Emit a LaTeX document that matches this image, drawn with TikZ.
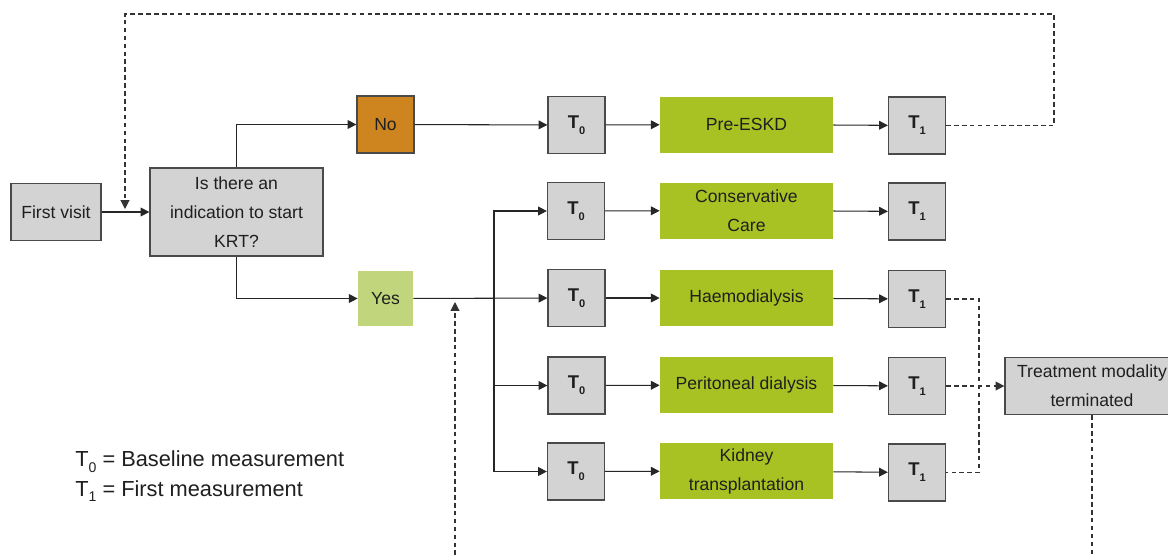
\documentclass[tikz,border=0pt]{standalone}
\usepackage{fontspec}
\setmainfont{Liberation Sans}
\usetikzlibrary{arrows.meta}
\definecolor{boxgray}{HTML}{D3D3D3}
\definecolor{edgegray}{HTML}{4A4A4A}
\definecolor{modgreen}{HTML}{A8C123}
\definecolor{nogold}{HTML}{CE8520}
\definecolor{yesgreen}{HTML}{C1D67C}
\newcommand{\tsub}[2]{\raisebox{-3.3pt}{\fontsize{#1}{#1}\selectfont #2}}

\begin{document}
\begin{tikzpicture}[x=0.02cm, y=-0.02cm,
    every node/.style={font=\fontsize{10}{16.5}\selectfont, text=black!88, inner sep=2pt, align=center},
    graybox/.style={draw=edgegray, fill=boxgray, line width=0.7pt, minimum width=#1, minimum height=1.14cm},
    graybox/.default=1.14cm,
    tbox/.style={graybox, font=\fontsize{10.5}{12}\selectfont\bfseries},
    modbox/.style={fill=modgreen, minimum width=3.46cm, minimum height=1.12cm},
    arr/.style={-{Triangle[length=5pt,width=5pt]}, line width=0.6pt, draw=black!85},
    dline/.style={line width=0.6pt, draw=black!80, dash pattern=on 2.6pt off 1.9pt},
    dasharr/.style={arr, draw=black!80, dash pattern=on 2.6pt off 1.9pt}]
    \useasboundingbox (0,0) rectangle (1168,555);

    % decision part
    \node[graybox=1.8cm] (first) at (56,212) {First visit};
    \node[graybox=3.46cm, minimum height=1.76cm] (quest) at (236.5,212) {Is there an\\indication to start\\KRT?};
    \node[graybox, fill=nogold] (no) at (385.5,124.5) {No};
    \node[fill=yesgreen, minimum width=1.1cm, minimum height=1.1cm] (yes) at (385.5,298.5) {Yes};

    % T0 -> modality -> T1
    \node[tbox] (t0pre) at (576.5,125) {T\tsub{6.3}{0}};
    \node[modbox] (pre) at (746.5,124.5) {Pre-ESKD};
    \node[tbox] (t1pre) at (917,125.5) {T\tsub{6.3}{1}};

    \node[tbox] (t0cc) at (576,211) {T\tsub{6.3}{0}};
    \node[modbox] (cc) at (746.5,210.5) {Conservative\\Care};
    \node[tbox] (t1cc) at (917,211.5) {T\tsub{6.3}{1}};

    \node[tbox] (t0hd) at (576.5,298) {T\tsub{6.3}{0}};
    \node[modbox] (hd) at (746.5,298) {Haemodialysis};
    \node[tbox] (t1hd) at (917,299) {T\tsub{6.3}{1}};

    \node[tbox] (t0pd) at (576.5,385.5) {T\tsub{6.3}{0}};
    \node[modbox] (pd) at (746.5,385) {Peritoneal dialysis};
    \node[tbox] (t1pd) at (917,386) {T\tsub{6.3}{1}};

    \node[tbox] (t0tx) at (576,471.5) {T\tsub{6.3}{0}};
    \node[modbox] (tx) at (746.5,471) {Kidney\\transplantation};
    \node[tbox] (t1tx) at (917,472.5) {T\tsub{6.3}{1}};

    \node[graybox=3.48cm] (treat) at (1092,386) {Treatment modality\\terminated};

    % legend
    \node[anchor=base west, align=left, inner sep=0pt, font=\fontsize{12.4}{16.6}\selectfont] (legend) at (75,496)
        {T\tsub{8}{0} = Baseline measurement\\T\tsub{8}{1} = First measurement};

    \draw[arr] (first) -- (quest);
    \draw[arr] (quest.north) |- (no);
    \draw[arr] (quest.south) |- (yes);
    \draw[arr] (no) -- (t0pre);
    \draw[arr] (yes) -- (t0hd);

    \coordinate (split) at (494,298);
    \draw[arr] (split) |- (t0cc);
    \draw[arr] (split) |- (t0pd);
    \draw[arr] (split) |- (t0tx);

    \draw[arr] (t0pre) -- (pre);  \draw[arr] (pre) -- (t1pre);
    \draw[arr] (t0cc) -- (cc);    \draw[arr] (cc) -- (t1cc);
    \draw[arr] (t0hd) -- (hd);    \draw[arr] (hd) -- (t1hd);
    \draw[arr] (t0pd) -- (pd);    \draw[arr] (pd) -- (t1pd);
    \draw[arr] (t0tx) -- (tx);    \draw[arr] (tx) -- (t1tx);

    % dashed returns
    \coordinate (loopR) at (1054,14);
    \coordinate (loopL) at (125,14);
    \coordinate (fbtip) at (125,209);
    \draw[dasharr] (t1pre.east) -| (loopR) -- (loopL) -- (fbtip);

    \coordinate (merge) at (979,386);
    \draw[dline] (t1hd.east) -| (merge) |- (t1tx.east);
    \draw[dasharr] (t1pd) -- (treat);

    \coordinate (upfoot) at (455,555);
    \coordinate (uptip) at (455,302);
    \draw[dasharr] (upfoot) -- (uptip);

    \coordinate (downfoot) at (1092,555);
    \draw[dline] (treat.south) -- (downfoot);
\end{tikzpicture}
\end{document}
